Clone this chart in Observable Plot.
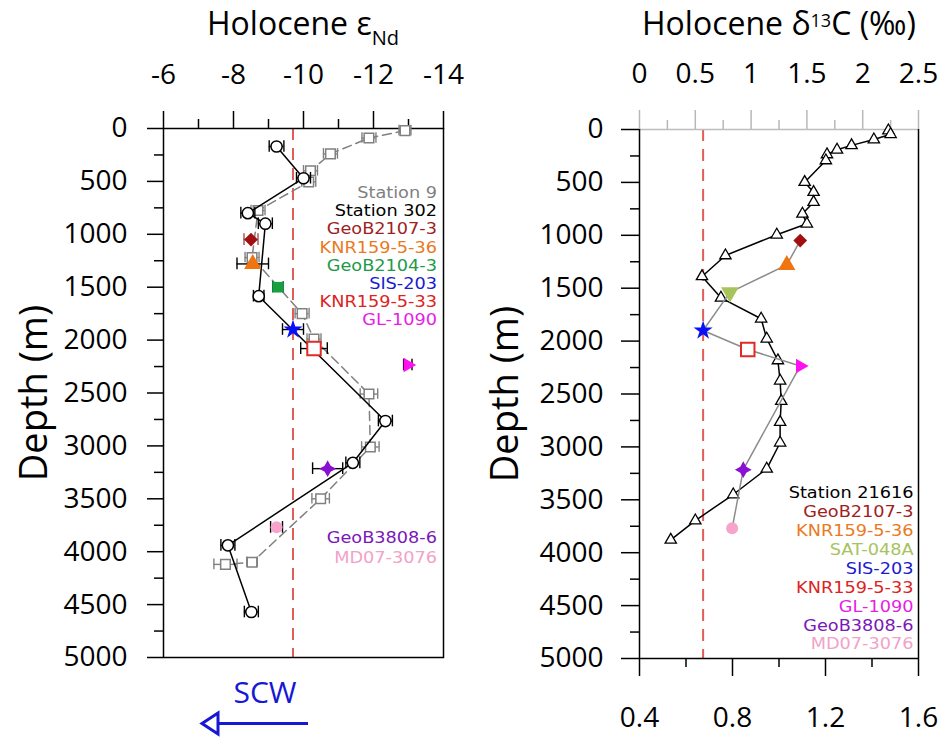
<!DOCTYPE html>
<html>
<head>
<meta charset="utf-8">
<script src="https://cdn.jsdelivr.net/npm/d3@7"></script>
<script src="https://cdn.jsdelivr.net/npm/@observablehq/plot@0.6"></script>
<style>
  html, body { margin: 0; padding: 0; background: #fff; }
  #wrap { position: relative; width: 942px; height: 737px; overflow: hidden; font-family: "Open Sans", sans-serif; }
</style>
</head>
<body>
<div id="wrap"></div>
<script>
// ---------------- data ----------------
// axes
const depthDomain = [0, 5000];
const depthTicks = [0, 500, 1000, 1500, 2000, 2500, 3000, 3500, 4000, 4500, 5000];
const depthMinor = [250, 750, 1250, 1750, 2250, 2750, 3250, 3750, 4250, 4750];
const epsDomain = [-6, -14];
const epsTicks = [-6, -8, -10, -12, -14];
const epsMinor = [-7, -9, -11, -13];
const d13Domain = [0, 2.5];
const d13Ticks = [0, 0.5, 1, 1.5, 2, 2.5];
const d13Minor = [0.25, 0.75, 1.25, 1.75, 2.25];
const bottomDomain = [0.4, 1.6];
const bottomTicks = [0.4, 0.8, 1.2, 1.6];
const bottomMinor = [0.6, 1.0, 1.4];

// Holocene eNd – Station 302 (seawater)
const st302Depth = [170, 470, 800, 900, 1585, 2765, 3160, 3940, 4570];
const st302Eps   = [-9.23, -10.0, -8.41, -8.91, -8.72, -12.34, -11.41, -7.84, -8.51];
const st302Err   = [0.21, 0.2, 0.2, 0.2, 0.15, 0.2, 0.2, 0.2, 0.2];

// Holocene eNd – Station 9 (seawater)
const st9Depth = [20, 90, 240, 400, 505, 775, 1220, 1750, 1990, 2510, 3010, 3500, 4100, 4120];
const st9Eps   = [-12.9, -11.87, -10.77, -10.2, -10.15, -8.7, -8.53, -9.96, -10.3, -11.87, -11.91, -10.49, -8.53, -7.77];
const st9Err   = [0.17, 0.2, 0.2, 0.2, 0.2, 0.2, 0.2, 0.2, 0.2, 0.25, 0.25, 0.25, 0.15, 0.33];

// Holocene eNd – sediment cores
const coreNdNames = ["GeoB2107-3", "KNR159-5-36", "GeoB2104-3", "SIS-203", "KNR159-5-33", "GL-1090", "GeoB3808-6", "MD07-3076"];
const coreNdDepth = [1050, 1280, 1500, 1900, 2080, 2235, 3215, 3770];
const coreNdEps   = [-8.5, -8.55, -9.27, -9.7, -10.3, -12.98, -10.69, -9.23];
const coreNdErr   = [0.2, 0.45, 0.15, 0.3, 0.38, 0.12, 0.43, 0.17];

// Holocene d13C – Station 21616 (seawater)
const st21616Depth = [10, 45, 95, 150, 192, 236, 293, 498, 592, 687, 797, 891, 995, 1191, 1389, 1591, 1789, 1978, 2183, 2375, 2568, 2766, 2961, 3207, 3450, 3696, 3879];
const st21616D13C  = [2.23, 2.25, 2.10, 1.90, 1.77, 1.68, 1.67, 1.48, 1.56, 1.56, 1.46, 1.50, 1.23, 0.77, 0.56, 0.73, 1.09, 1.14, 1.24, 1.26, 1.27, 1.26, 1.26, 1.14, 0.84, 0.50, 0.28];

// Holocene d13C – sediment cores
const coreCNames = ["GeoB2107-3", "KNR159-5-36", "SAT-048A", "SIS-203", "KNR159-5-33", "GL-1090", "GeoB3808-6", "MD07-3076"];
const coreCDepth = [1050, 1280, 1540, 1900, 2080, 2235, 3215, 3770];
const coreCValue = [1.44, 1.32, 0.81, 0.57, 0.97, 1.44, 0.93, 0.83];

// reference lines
const ndRef = [-9.7];
const cRef = [0.57];

// legends
const leftLegendTop = ["Station 9", "Station 302", "GeoB2107-3", "KNR159-5-36", "GeoB2104-3", "SIS-203", "KNR159-5-33", "GL-1090"];
const leftLegendBottom = ["GeoB3808-6", "MD07-3076"];
const rightLegend = ["Station 21616", "GeoB2107-3", "KNR159-5-36", "SAT-048A", "SIS-203", "KNR159-5-33", "GL-1090", "GeoB3808-6", "MD07-3076"];

// ---------------- styles ----------------
const FONT = '"Open Sans", sans-serif';
const LEGEND_FONT = '"DejaVu Sans", sans-serif';
const star4 = {
  draw(ctx, size) {
    const R = Math.sqrt(size / Math.PI) * 1.35, k = R * 0.36;
    ctx.moveTo(0, -R); ctx.lineTo(k, -k); ctx.lineTo(R, 0); ctx.lineTo(k, k);
    ctx.lineTo(0, R); ctx.lineTo(-k, k); ctx.lineTo(-R, 0); ctx.lineTo(-k, -k); ctx.closePath();
  }
};
const textColor = {
  "Station 9": "#808080", "Station 302": "#000000", "Station 21616": "#000000",
  "GeoB2107-3": "#9e1f1f", "KNR159-5-36": "#ea7a22", "GeoB2104-3": "#1f9a4a",
  "SIS-203": "#1a1ad0", "KNR159-5-33": "#dc2322", "GL-1090": "#e61ee6",
  "GeoB3808-6": "#7b18b8", "MD07-3076": "#f2a2c9", "SAT-048A": "#a8c262"
};
const marker = {
  "GeoB2107-3":  {symbol: "diamond2", r: 6.2, fill: "#a01010", stroke: "none", err: "#a05050"},
  "KNR159-5-36": {symbol: "triangle", r: 6.4, fill: "#f07510", stroke: "none", err: "#000"},
  "GeoB2104-3":  {symbol: "square", r: 6, fill: "#18a040", stroke: "none", err: "#107030"},
  "SAT-048A":    {symbol: "triangle", r: 6.6, fill: "#a7c35c", stroke: "none", rotate: 180},
  "SIS-203":     {symbol: "star", r: 6, fill: "#0a10f5", stroke: "none", err: "#000"},
  "KNR159-5-33": {symbol: "square", r: 7.6, fill: "white", stroke: "#e02a25", sw: 2, err: "#000"},
  "GL-1090":     {symbol: "triangle", r: 5.4, fill: "#ff10f0", stroke: "none", rotate: 90, err: "#000"},
  "GeoB3808-6":  {symbol: star4, r: 6.2, fill: "#8a0fd0", stroke: "none", err: "#000"},
  "MD07-3076":   {symbol: "circle", r: 6, fill: "#f7a3cb", stroke: "none", err: "#000"}
};

function errorBars(idx, X, Y, E, stroke, cap) {
  const s = typeof stroke === "function" ? stroke : () => stroke;
  return [
    Plot.ruleY(idx, {y: i => Y[i], x1: i => X[i] - E[i], x2: i => X[i] + E[i], stroke: s, strokeWidth: 1.4}),
    Plot.ruleX(idx, {x: i => X[i] - E[i], y1: i => Y[i] - cap, y2: i => Y[i] + cap, stroke: s, strokeWidth: 1.4}),
    Plot.ruleX(idx, {x: i => X[i] + E[i], y1: i => Y[i] - cap, y2: i => Y[i] + cap, stroke: s, strokeWidth: 1.4})
  ];
}
function coreDots(names, X, Y) {
  return names.map((name, i) => {
    const m = marker[name];
    return Plot.dot([i], {x: j => X[j], y: j => Y[j], symbol: m.symbol, r: m.r, fill: m.fill,
      stroke: m.stroke, strokeWidth: m.sw || 1, rotate: m.rotate || 0});
  });
}
const toTop = b => (b - bottomDomain[0]) * (d13Domain[1] - d13Domain[0]) / (bottomDomain[1] - bottomDomain[0]);
const toBottom = v => bottomDomain[0] + v * (bottomDomain[1] - bottomDomain[0]) / (d13Domain[1] - d13Domain[0]);

const wrap = document.getElementById("wrap");

// ---------------- left panel: eNd ----------------
const idx302 = d3.range(st302Depth.length);
const idx9 = d3.range(st9Depth.length);
const idxNd = d3.range(coreNdNames.length);

const left = Plot.plot({
  width: 470, height: 737,
  marginLeft: 163, marginRight: 27, marginTop: 128, marginBottom: 80,
  style: {fontFamily: FONT, background: "transparent", overflow: "visible", color: "black"},
  x: {domain: epsDomain},
  y: {domain: depthDomain, reverse: true},
  marks: [
    Plot.ruleX(ndRef, {stroke: "#e35d58", strokeWidth: 2, strokeDasharray: "12,8"}),
    Plot.axisX(epsMinor, {anchor: "top", tickSize: 10, tickFormat: () => "", label: null, strokeWidth: 1.5}),
    Plot.axisX(epsTicks, {anchor: "top", tickSize: 18, tickPadding: 27, tickFormat: d => String(d), fontSize: 28, label: null, strokeWidth: 1.5}),
    Plot.axisY(depthMinor, {anchor: "left", tickSize: 9, tickFormat: () => "", label: null, strokeWidth: 1.5}),
    Plot.axisY(depthTicks, {anchor: "left", tickSize: 16, tickPadding: 20, tickFormat: d => String(d), fontSize: 28, label: null, strokeWidth: 1.5}),
    Plot.text(["Depth (m)"], {frameAnchor: "left", dx: -117, dy: 0, rotate: -90, fontSize: 38, lineAnchor: "bottom", textAnchor: "middle"}),
    Plot.frame({stroke: "black", strokeWidth: 1.5}),
    // Station 9
    ...errorBars(idx9, st9Eps, st9Depth, st9Err, "#808080", 50),
    Plot.line(idx9, {x: i => st9Eps[i], y: i => st9Depth[i], stroke: "#808080", strokeWidth: 1.5, strokeDasharray: "9,5"}),
    Plot.dot(idx9, {x: i => st9Eps[i], y: i => st9Depth[i], symbol: "square", r: 5.4, fill: "white", stroke: "#808080", strokeWidth: 1.5}),
    // Station 302
    ...errorBars(idx302, st302Eps, st302Depth, st302Err, "#000", 55),
    Plot.line(idx302, {x: i => st302Eps[i], y: i => st302Depth[i], stroke: "#000", strokeWidth: 1.5}),
    Plot.dot(idx302, {x: i => st302Eps[i], y: i => st302Depth[i], r: 5.6, fill: "white", stroke: "#000", strokeWidth: 1.5}),
    // cores
    ...errorBars(idxNd, coreNdEps, coreNdDepth, coreNdErr, i => marker[coreNdNames[i]].err, 55),
    ...coreDots(coreNdNames, coreNdEps, coreNdDepth)
  ]
});
left.style.position = "absolute"; left.style.left = "0px"; left.style.top = "0px";
wrap.appendChild(left);

// ---------------- right panel: d13C ----------------
const idx21616 = d3.range(st21616Depth.length);
const idxC = d3.range(coreCNames.length);

const right = Plot.plot({
  width: 472, height: 737,
  marginLeft: 169, marginRight: 24, marginTop: 129, marginBottom: 79,
  style: {fontFamily: FONT, background: "transparent", overflow: "visible", color: "black"},
  x: {domain: d13Domain},
  y: {domain: depthDomain, reverse: true},
  marks: [
    Plot.ruleX(cRef, {stroke: "#e35d58", strokeWidth: 2, strokeDasharray: "12,8"}),
    Plot.axisX(d13Minor, {anchor: "top", tickSize: 10, tickFormat: () => "", label: null, stroke: "#b8b8b8", strokeWidth: 1.5}),
    Plot.axisX(d13Ticks, {anchor: "top", tickSize: 20, tickPadding: 27, tickFormat: d => String(d), fontSize: 28, label: null, stroke: "#b8b8b8", strokeWidth: 1.5}),
    Plot.axisX(bottomMinor.map(toTop), {anchor: "bottom", tickSize: 9, tickFormat: () => "", label: null, strokeWidth: 1.5}),
    Plot.axisX(bottomTicks.map(toTop), {anchor: "bottom", tickSize: 18, tickPadding: 31, tickFormat: v => toBottom(v).toFixed(1), fontSize: 28, label: null, strokeWidth: 1.5}),
    Plot.axisY(depthMinor, {anchor: "left", tickSize: 9, tickFormat: () => "", label: null, strokeWidth: 1.5}),
    Plot.axisY(depthTicks, {anchor: "left", tickSize: 18, tickPadding: 18, tickFormat: d => String(d), fontSize: 28, label: null, strokeWidth: 1.5}),
    Plot.text(["Depth (m)"], {frameAnchor: "left", dx: -122, dy: 0, rotate: -90, fontSize: 38, lineAnchor: "bottom", textAnchor: "middle"}),
    Plot.ruleY([depthDomain[0]], {stroke: "#bdbdbd", strokeWidth: 1.5}),
    Plot.ruleY([depthDomain[1]], {stroke: "black", strokeWidth: 1.5}),
    Plot.ruleX(d13Domain, {stroke: "black", strokeWidth: 1.5}),
    // Station 21616
    Plot.line(idx21616, {x: i => st21616D13C[i], y: i => st21616Depth[i], stroke: "#000", strokeWidth: 1.5}),
    Plot.dot(idx21616, {x: i => st21616D13C[i], y: i => st21616Depth[i], symbol: "triangle", r: 4.2, fill: "white", stroke: "#000", strokeWidth: 1.3}),
    // cores
    Plot.line(idxC, {x: i => coreCValue[i], y: i => coreCDepth[i], stroke: "#8c8c8c", strokeWidth: 1.5}),
    ...coreDots(coreCNames, coreCValue, coreCDepth)
  ]
});
right.style.position = "absolute"; right.style.left = "470px"; right.style.top = "0px";
wrap.appendChild(right);

// ---------------- titles, legends, annotation ----------------
const ov = d3.select(wrap).append("svg")
  .attr("width", 942).attr("height", 737)
  .style("position", "absolute").style("left", "0px").style("top", "0px")
  .style("pointer-events", "none")
  .attr("font-family", FONT);

const t1 = ov.append("text").attr("x", 303).attr("y", 34.5).attr("text-anchor", "middle").attr("font-size", 32).attr("fill", "#000");
t1.append("tspan").text("Holocene ε");
t1.append("tspan").attr("font-size", 20).attr("dy", 10).text("Nd");

const t2 = ov.append("text").attr("x", 779).attr("y", 34.5).attr("text-anchor", "middle").attr("font-size", 32).attr("fill", "#000");
t2.append("tspan").text("Holocene δ");
t2.append("tspan").attr("font-size", 18).attr("dy", -8).text("13");
t2.append("tspan").attr("dy", 8).text("C (‰)");

// compact legend lines, right-aligned, widened horizontally like the original lettering
function legend(names, x, y0, step) {
  const g = ov.append("g").attr("transform", `translate(${x},0) scale(1.15,1)`);
  names.forEach((name, i) => {
    g.append("text").attr("x", 0).attr("y", y0 + i * step).attr("text-anchor", "end")
      .attr("font-family", LEGEND_FONT).attr("font-size", 15.4)
      .attr("fill", textColor[name]).text(name);
  });
}
legend(leftLegendTop, 437, 198.3, 18.1);
legend(leftLegendBottom, 437, 543.5, 19.2);
legend(rightLegend, 913.5, 498.3, 18.9);

ov.append("text").attr("x", 265).attr("y", 703).attr("text-anchor", "middle")
  .attr("font-size", 30).attr("fill", "#1717d6").text("SCW");
ov.append("line").attr("x1", 308).attr("y1", 723.5).attr("x2", 218).attr("y2", 723.5)
  .attr("stroke", "#1717d6").attr("stroke-width", 3);
ov.append("polygon").attr("points", "202,723.5 218,713 218,734")
  .attr("fill", "none").attr("stroke", "#1717d6").attr("stroke-width", 3).attr("stroke-linejoin", "miter");
</script>
</body>
</html>
